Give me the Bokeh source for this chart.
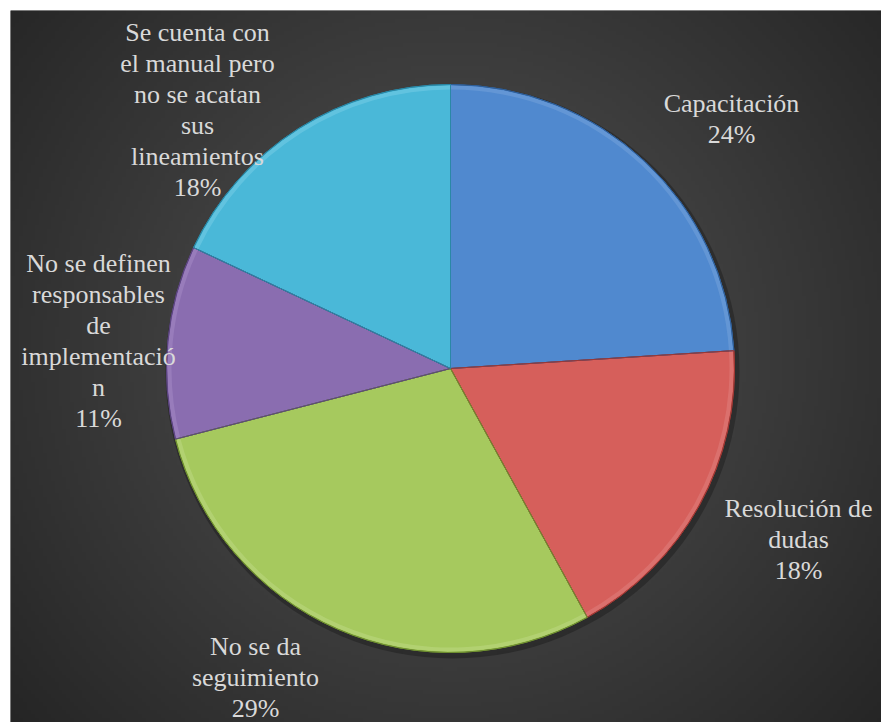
import numpy as np
from bokeh.plotting import figure
from bokeh.models import Range1d, ColumnDataSource
from bokeh.core.properties import value
from bokeh.embed import file_html
from bokeh.resources import INLINE

# ---- data ----
categories = ["Capacitación", "Resolución de dudas", "No se da seguimiento",
              "No se definen responsables de implementación",
              "Se cuenta con el manual pero no se acatan sus lineamientos"]
values = [24, 18, 29, 11, 18]
label_texts = ["Capacitación\n24%",
               "Resolución de\ndudas\n18%",
               "No se da\nseguimiento\n29%",
               "No se definen\nresponsables\nde\nimplementació\nn\n11%",
               "Se cuenta con\nel manual pero\nno se acatan\nsus\nlineamientos\n18%"]
colors = ["#5089cf", "#d65f5b", "#a6c95e", "#8a6db0", "#4ab8d8"]
light = ["#7aa6dc", "#e38682", "#c2dc8a", "#a98ec9", "#7fd0e8"]
dark = ["#2f5f99", "#9e3733", "#6f8f30", "#5c4580", "#2a88a6"]

# ---- layout (pixel coords of the window) ----
W, H = 881, 722
BL, BT = 10, 10
CX, CY, R = 450, 368, 284
label_pos = [(731, 118), (798, 539), (255, 677), (98, 340), (197, 109)]
LINE = 31


def py(y):
    return H - y


p = figure(width=W, height=H, output_backend="svg", toolbar_location=None,
           x_range=Range1d(BL, W), y_range=Range1d(0, H - BT),
           min_border_left=BL, min_border_top=BT, min_border_right=0, min_border_bottom=0)
p.axis.visible = False
p.grid.visible = False
p.outline_line_color = None
p.border_fill_color = "white"
p.background_fill_color = "#333333"

# background radial gradient
nx, ny = 220, 180
xs = np.linspace(BL, W, nx)
ys = np.linspace(0, H - BT, ny)
XX, YY = np.meshgrid(xs, ys)
rr = np.sqrt((XX - CX) ** 2 + (YY - py(CY - 20)) ** 2)
g = np.clip(84 - 50 * rr / 620, 36, 90).astype(np.uint32)
img = (255 << 24) | (g << 16) | (g << 8) | g
p.image_rgba(image=[img.astype(np.uint32)], x=BL, y=0, dw=W - BL, dh=H - BT)

# pie angles
v = np.array(values, dtype=float)
frac = v / v.sum()
cum = np.concatenate([[0], np.cumsum(frac)])
start = np.pi / 2 - 2 * np.pi * cum[1:]
end = np.pi / 2 - 2 * np.pi * cum[:-1]

src = ColumnDataSource(dict(start=start, end=end, color=colors, light=light, dark=dark, cat=categories))

# soft drop shadow
p.ellipse(x=CX + 2, y=py(CY + 3), width=2 * R + 6, height=2 * R + 6, fill_color="black",
          fill_alpha=0.25, line_color=None)
p.wedge(x=CX, y=py(CY), radius=R, start_angle="start", end_angle="end", source=src,
        fill_color="color", line_color="dark", line_width=1)
# bevel highlight near the rim
p.annular_wedge(x=CX, y=py(CY), inner_radius=R - 5, outer_radius=R - 1, start_angle="start",
                end_angle="end", source=src, fill_color="light", fill_alpha=0.45, line_color=None)
p.wedge(x=CX, y=py(CY), radius=R, start_angle="start", end_angle="end", source=src,
        fill_color=None, line_color="dark", line_width=1)

# labels, one text item per line
tx, ty, tt = [], [], []
for (lxp, lyp), txt in zip(label_pos, label_texts):
    lines = txt.split("\n")
    n = len(lines)
    for i, ln in enumerate(lines):
        tx.append(lxp)
        ty.append(py(lyp + (i - (n - 1) / 2) * LINE))
        tt.append(ln)
p.text(x=tx, y=ty, text=tt, text_font=value("Liberation Serif"),
       text_font_size="26px", text_color="#d9d9d9", text_align="center",
       text_baseline="middle")

open("out.html", "w").write(file_html(p, INLINE))
